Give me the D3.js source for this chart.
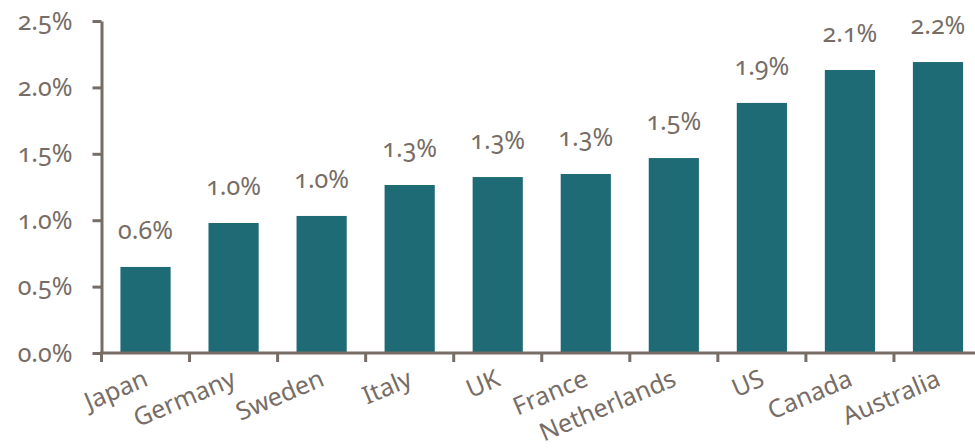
<!DOCTYPE html>
<html>
<head>
<meta charset="utf-8">
<script src="https://cdn.jsdelivr.net/npm/d3@7"></script>
<style>
  html, body { margin: 0; padding: 0; background: #fff; }
  svg text {
    font-family: "Noto Sans", "Open Sans", sans-serif;
    font-variant-numeric: oldstyle-nums;
    fill: #776d66;
  }
</style>
</head>
<body>
<svg id="chart" width="975" height="448"></svg>
<script>
// Country values, in percent
const countries = ["Japan", "Germany", "Sweden", "Italy", "UK", "France", "Netherlands", "US", "Canada", "Australia"];
const values = [0.648, 0.979, 1.032, 1.265, 1.325, 1.348, 1.468, 1.883, 2.131, 2.191];
const yTicks = [0, 0.5, 1.0, 1.5, 2.0, 2.5];

const width = 975, height = 448;
const margin = { top: 21, right: -7, bottom: 95, left: 101.5 };

const svg = d3.select("#chart");
const axisColor = "#776d66";
const barColor = "#1f6b75";

const x = d3.scaleBand()
  .domain(countries)
  .range([margin.left, width - margin.right])
  .paddingInner(0.43)
  .paddingOuter(0.215);

const y = d3.scaleLinear()
  .domain([0, 2.5])
  .range([height - margin.bottom, margin.top]);

const fmt = d3.format(".1f");

// Bars
svg.append("g")
  .selectAll("rect")
  .data(countries)
  .join("rect")
  .attr("x", d => x(d))
  .attr("y", (d, i) => y(values[i]))
  .attr("width", x.bandwidth())
  .attr("height", (d, i) => y(0) - y(values[i]))
  .attr("fill", barColor);

// Value labels
svg.append("g")
  .selectAll("text")
  .data(countries)
  .join("text")
  .attr("x", d => x(d) + x.bandwidth() / 2)
  .attr("y", (d, i) => y(values[i]) - 28)
  .attr("text-anchor", "middle")
  .attr("font-size", 25)
  .text((d, i) => fmt(values[i]) + "%");

// Y axis
const yAxis = svg.append("g")
  .attr("transform", `translate(${margin.left},0)`)
  .call(d3.axisLeft(y).tickValues(yTicks).tickFormat(d => fmt(d) + "%").tickSize(9).tickSizeOuter(0).tickPadding(20));
yAxis.select(".domain").attr("stroke", axisColor).attr("stroke-width", 3);
yAxis.selectAll(".tick line").attr("stroke", axisColor).attr("stroke-width", 3);
yAxis.selectAll(".tick text")
  .attr("font-size", 25)
  .attr("font-family", null)
  .attr("fill", null);

// X axis with ticks between categories
const xAxisG = svg.append("g")
  .attr("transform", `translate(0,${y(0)})`);
xAxisG.append("line")
  .attr("x1", margin.left - 1.5)
  .attr("x2", width)
  .attr("stroke", axisColor)
  .attr("stroke-width", 3);
const step = x.step();
const boundaries = d3.range(countries.length).map(i => x(countries[i]) - x.paddingOuter() * step);
xAxisG.selectAll(".sep")
  .data(boundaries)
  .join("line")
  .attr("class", "sep")
  .attr("x1", d => d)
  .attr("x2", d => d)
  .attr("y1", 0)
  .attr("y2", 9)
  .attr("stroke", axisColor)
  .attr("stroke-width", 3);

// Category labels, rotated
xAxisG.selectAll(".cat")
  .data(countries)
  .join("text")
  .attr("class", "cat")
  .attr("text-anchor", "end")
  .attr("font-size", 25)
  .attr("transform", d => `translate(${x(d) + x.bandwidth() / 2 + 4},${32}) rotate(-23)`)
  .text(d => d);
</script>
</body>
</html>
